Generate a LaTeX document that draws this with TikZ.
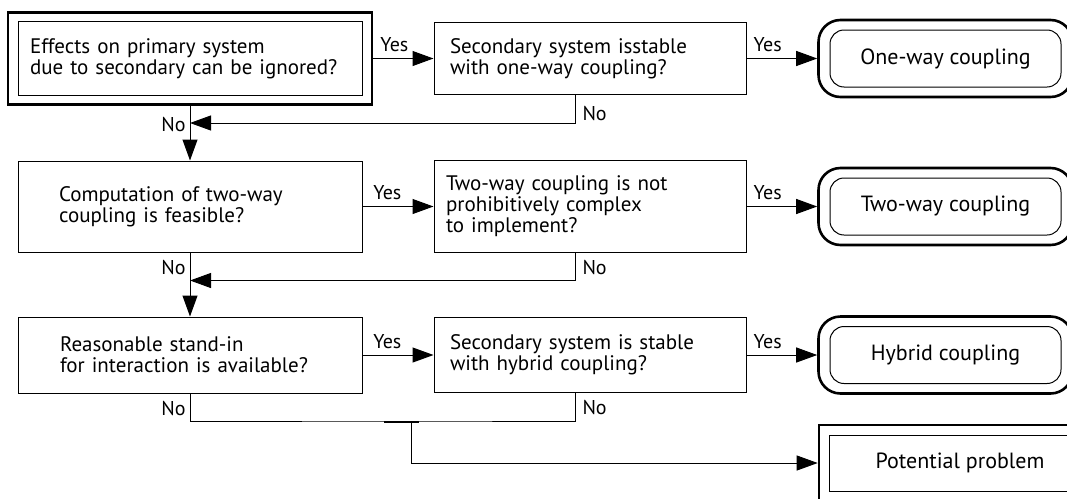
\documentclass[tikz,border=0pt]{standalone}
\usepackage{fontspec}
\setmainfont{PT Sans}
\usetikzlibrary{positioning,fit,arrows.meta}

\begin{document}
\begin{tikzpicture}[x=1pt, y=-1pt,
    question/.style={rectangle, draw, line width=1pt, align=left, inner ysep=0pt,
        font=\fontsize{21}{21}\selectfont},
    frame/.style={rectangle, draw, line width=2.6pt, inner xsep=9.5pt, inner ysep=8.5pt},
    outcome/.style={rectangle, rounded corners=14pt, draw, line width=1pt, inner sep=0pt,
        minimum width=231pt, minimum height=57pt, font=\fontsize{22}{24}\selectfont},
    outcomeframe/.style={rectangle, rounded corners=22pt, draw, line width=2.6pt,
        inner xsep=11pt, inner ysep=9.5pt},
    flow/.style={line width=1pt, -{Triangle[length=21pt,width=15pt]}},
    answer/.style={inner sep=2pt, font=\fontsize{20}{22}\selectfont}
]
\useasboundingbox (0,0) rectangle (1067,498);

% questions
\node [question, text width=320pt, inner xsep=12pt, minimum height=74pt] (effects) at (190,58.5)
    {Effects on primary system\\due to secondary can be ignored?};
\node [frame, fit=(effects)] (effects frame) {};
\node [question, text width=280pt, inner xsep=16pt, minimum height=72pt] (stableOne) at (590,58.5)
    {Secondary system isstable\\with one-way coupling?};
\node [question, text width=262pt, inner xsep=41pt, minimum height=91pt] (feasible) at (190,206.5)
    {Computation of two-way\\coupling is feasible?};
\node [question, text width=288pt, inner xsep=12pt, minimum height=92pt] (complex) at (590,206.5)
    {Two-way coupling is not\\prohibitively complex\\to implement?};
\node [question, text width=260pt, inner xsep=42pt, minimum height=76pt] (standin) at (190,355)
    {Reasonable stand-in\\for interaction is available?};
\node [question, text width=280pt, inner xsep=16pt, minimum height=75pt] (stableHybrid) at (590,355)
    {Secondary system is stable\\with hybrid coupling?};

% outcomes
\node [outcome] (oneway) at (945.5,58.5) {One-way coupling};
\node [outcomeframe, fit=(oneway)] (oneway frame) {};
\node [outcome] (twoway) at (945.5,206.5) {Two-way coupling};
\node [outcomeframe, fit=(twoway)] (twoway frame) {};
\node [outcome] (hybrid) at (945.5,355) {Hybrid coupling};
\node [outcomeframe, fit=(hybrid)] (hybrid frame) {};
\node [outcome, rounded corners=0pt, minimum width=262pt, minimum height=56pt] (problem) at (960,463)
    {Potential problem};
\node [frame, inner sep=9.5pt, fit=(problem)] (problem frame) {};

% yes branches
\draw [flow] (effects frame.east) -- node [answer, above=4pt, pos=0.35] {Yes} (stableOne.west);
\draw [flow] (stableOne.east) -- node [answer, above=4pt, pos=0.3] {Yes} (oneway frame.west);
\draw [flow] (feasible.east) -- node [answer, above=4pt, pos=0.35] {Yes} (complex.west);
\draw [flow] (complex.east) -- node [answer, above=4pt, pos=0.3] {Yes} (twoway frame.west);
\draw [flow] (standin.east) -- node [answer, above=4pt, pos=0.35] {Yes} (stableHybrid.west);
\draw [flow] (stableHybrid.east) -- node [answer, above=4pt, pos=0.3] {Yes} (hybrid frame.west);

% no branches
\coordinate (mergeOne) at (190,123);
\coordinate (mergeTwo) at (190,280.5);
\coordinate (split) at (411,421);

\draw [flow] (effects frame) -- node [answer, pos=0, anchor=north east, yshift=-9pt, xshift=-2pt] {No} (feasible);
\draw [flow] ([xshift=-15pt]stableOne.south) |- node [answer, pos=0, anchor=north west, yshift=-9pt, xshift=5pt] {No} (mergeOne);
\draw [flow] (feasible) -- node [answer, pos=0, anchor=north east, yshift=-5pt, xshift=-2pt] {No} (standin);
\draw [flow] ([xshift=-15pt]complex.south) |- node [answer, pos=0, anchor=north west, yshift=-5pt, xshift=5pt] {No} (mergeTwo);
\draw [line width=1pt] (standin.south) |- node [answer, pos=0, anchor=north east, yshift=-5pt, xshift=-2pt] {No} (split)
    -| node [answer, pos=1, anchor=north west, yshift=-5pt, xshift=5pt] {No} ([xshift=-15pt]stableHybrid.south);
\draw [line width=2pt] ([xshift=-27pt,yshift=-0.5pt]split) -- ([xshift=8pt,yshift=-0.5pt]split);
\draw [flow] (split) |- (problem frame.west);

\end{tikzpicture}
\end{document}
